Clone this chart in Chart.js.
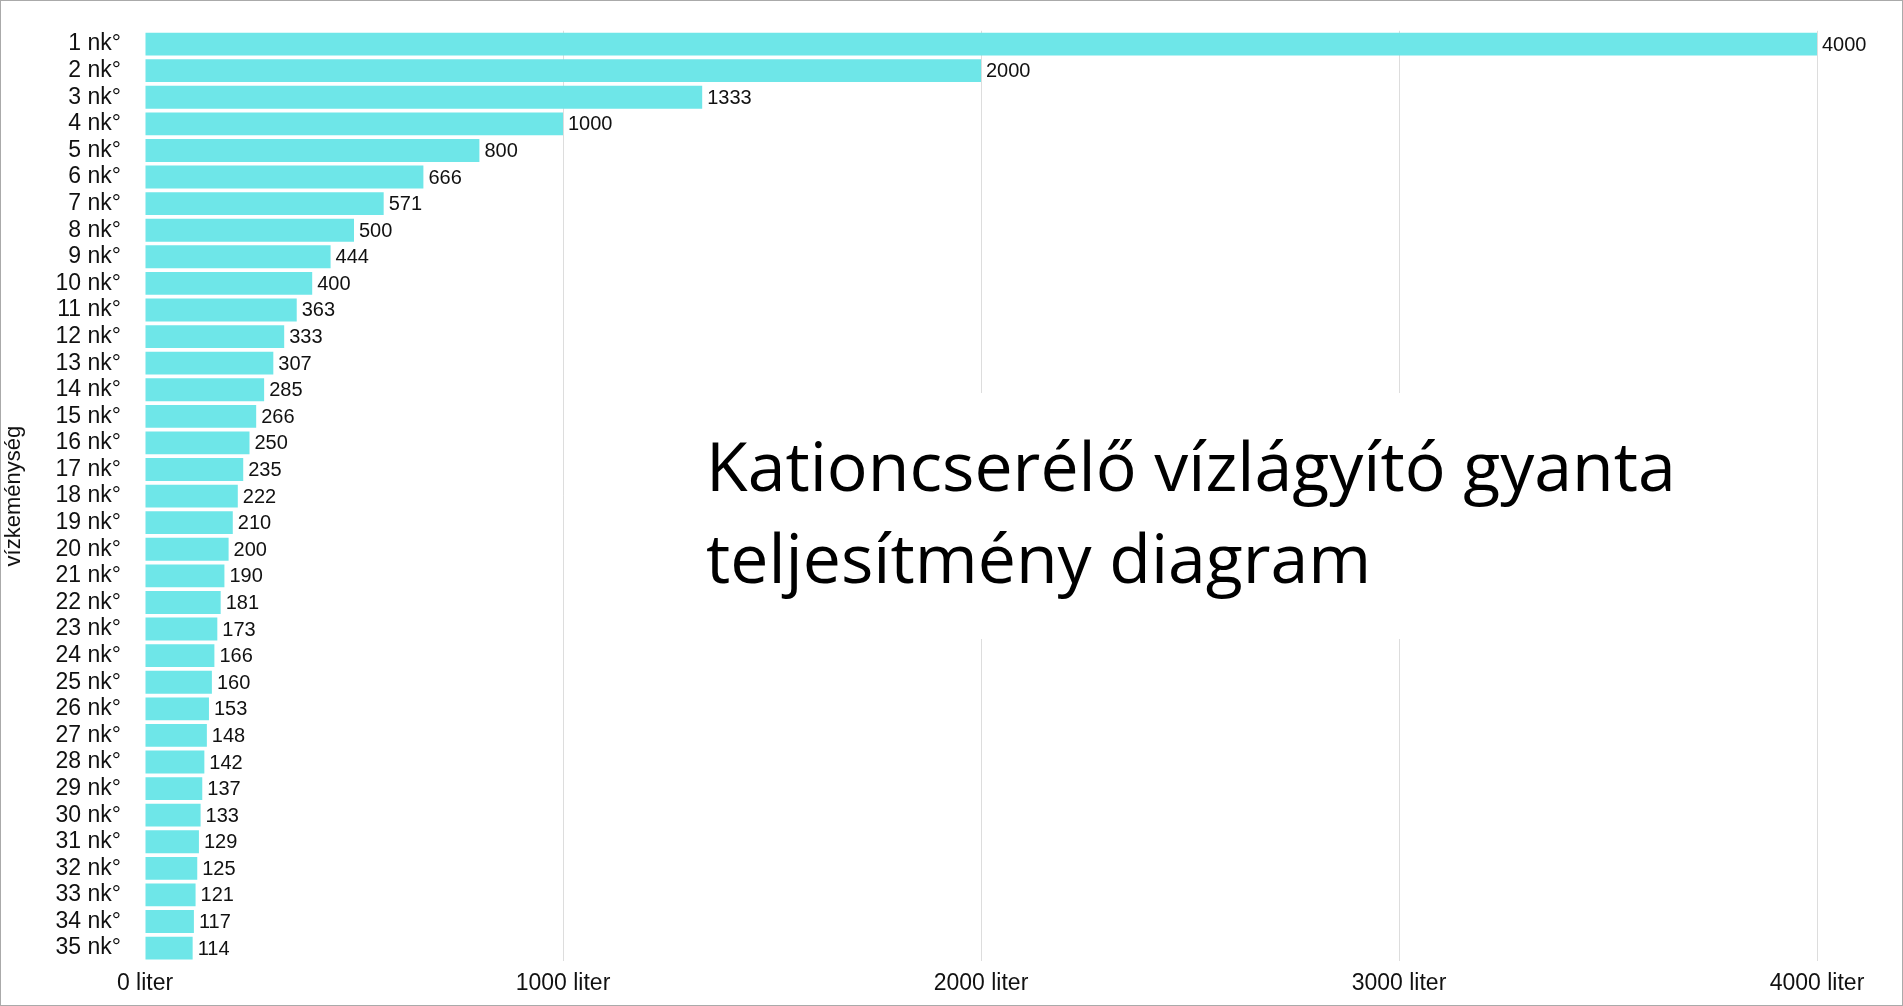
<!DOCTYPE html>
<html><head><meta charset="utf-8">
<script src="https://cdn.jsdelivr.net/npm/chart.js@4/dist/chart.umd.min.js"></script>
<style>html,body{margin:0;padding:0;background:#fff;}#wrap{position:absolute;left:0;top:0;width:1901px;height:1004px;border:1px solid #aaa;}canvas{display:block}</style>
</head><body><div id="wrap"><canvas id="c"></canvas></div>
<script>
const categories = Array.from({length:35},(_,i)=>(i+1)+' nk°');
const values = [4000,2000,1333,1000,800,666,571,500,444,400,363,333,307,285,266,250,235,222,210,200,190,181,173,166,160,153,148,142,137,133,129,125,121,117,114];
const tickValues = [0,1000,2000,3000,4000];
const titleLines = ['Kationcserélő vízlágyító gyanta','teljesítmény diagram'];

const labelPlugin = {
  id:'labels',
  afterDatasetsDraw(chart){
    const ctx=chart.ctx, meta=chart.getDatasetMeta(0);
    ctx.save();ctx.font='20px "Liberation Sans", Arial';ctx.fillStyle='#111';ctx.textBaseline='middle';
    meta.data.forEach((b,i)=>{ctx.fillText(values[i],b.x+5,b.y+1);});
    ctx.restore();
  },
  afterDraw(chart){
    const ctx=chart.ctx;ctx.save();
    ctx.fillStyle='#fff';ctx.fillRect(700,392,1000,246);
    ctx.fillStyle='#000';ctx.font='68px "Open Sans", sans-serif';ctx.textBaseline='alphabetic';
    ctx.fillText(titleLines[0],705,490);ctx.fillText(titleLines[1],705,582);
    ctx.restore();
  }
};

new Chart(document.getElementById('c'),{
  type:'bar',
  data:{labels:categories,datasets:[{data:values,backgroundColor:'#6ee6e8',barPercentage:0.86,categoryPercentage:1}]},
  options:{
    indexAxis:'y',responsive:true,maintainAspectRatio:false,animation:false,
    layout:{padding:{top:12,right:85,bottom:0,left:0}},
    plugins:{legend:{display:false},tooltip:{enabled:false}},
    scales:{
      x:{min:0,max:4000,afterBuildTicks(a){a.ticks=tickValues.map(v=>({value:v}));},
        grid:{color:(c)=>c.tick&&c.tick.value===0?'rgba(0,0,0,0)':'#ddd',drawTicks:false},border:{display:false},
        ticks:{padding:8,color:'#111',font:{size:23,family:'"Liberation Sans", Arial'},callback:v=>v+' liter',maxRotation:0}},
      y:{grid:{display:false},border:{display:false},afterFit(s){s.width=144;},
        title:{display:true,text:'vízkeménység',color:'#111',font:{size:22,family:'"Liberation Sans", Arial'},padding:0},
        ticks:{padding:16,color:'#111',autoSkip:false,font:{size:23,family:'"Liberation Sans", Arial'}}}
    }
  },
  plugins:[labelPlugin]
});
</script></body></html>
